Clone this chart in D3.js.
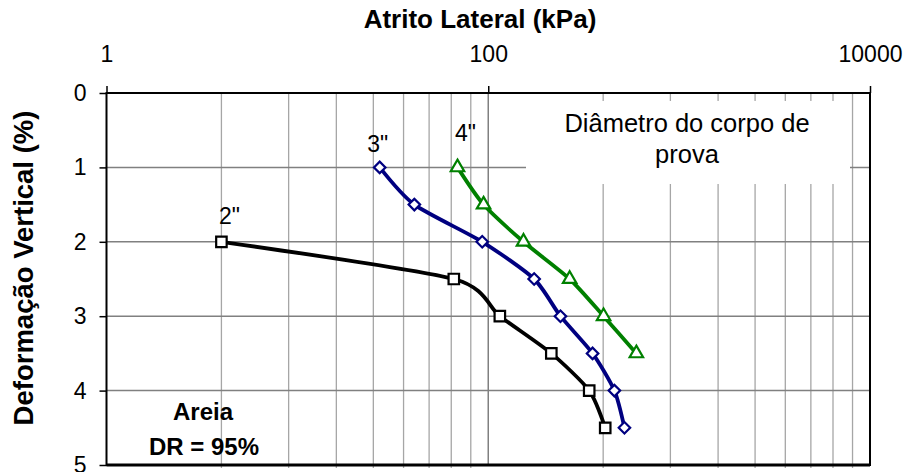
<!DOCTYPE html>
<html>
<head>
<meta charset="utf-8">
<script src="https://cdn.jsdelivr.net/npm/d3@7"></script>
<style>
  body { margin: 0; background: #fff; }
  text { font-family: Arial, "Liberation Sans", sans-serif; }
</style>
</head>
<body>
<div id="chart"></div>
<script>
// side friction vs vertical deformation, by specimen diameter

const yValues2 = [2, 2.5, 3, 3.5, 4, 4.5];
const xValues2 = [4, 66, 115, 214, 338, 410];

const yValues3 = [1, 1.5, 2, 2.5, 3, 3.5, 4, 4.5];
const xValues3 = [27, 41, 93, 174, 239, 352, 458, 517];

const yValues4 = [1, 1.5, 2, 2.5, 3, 3.5];
const xValues4 = [69, 94.5, 153, 267, 402, 597];

const xMajorTicks = [1, 100, 10000];
const xMinorTicks = [4, 9, 16, 25, 36, 49, 64, 81, 400, 900, 1600, 2500, 3600, 4900, 6400, 8100];
const yTicks = [0, 1, 2, 3, 4, 5];

const seriesNames = ['2"', '3"', '4"'];

let margin = {top: 93, right: 38, bottom: 7, left: 106.5};
let width = 908 - margin.left - margin.right;
let height = 472 - margin.top - margin.bottom;

let svg = d3.select("#chart").append("svg")
    .attr("width", 908)
    .attr("height", 472);

let g = svg.append("g")
    .attr("transform", "translate(" + margin.left + "," + margin.top + ")");

let x = d3.scaleLog().domain([1, 10000]).range([0, width]);
let y = d3.scaleLinear().domain([0, 5]).range([0, height]);

// minor vertical gridlines
g.selectAll(".minor").data(xMinorTicks)
    .enter().append("line")
    .attr("class", "minor")
    .attr("x1", d => x(d)).attr("x2", d => x(d))
    .attr("y1", 0).attr("y2", height + 3)
    .attr("stroke", "#a6a6a6")
    .attr("stroke-width", 1.3);

// major vertical gridline(s)
g.selectAll(".majorx").data(xMajorTicks.slice(1, -1))
    .enter().append("line")
    .attr("x1", d => x(d)).attr("x2", d => x(d))
    .attr("y1", 0).attr("y2", height)
    .attr("stroke", "#808080")
    .attr("stroke-width", 1.5);

// horizontal gridlines
g.selectAll(".majory").data(yTicks.slice(1, -1))
    .enter().append("line")
    .attr("x1", 0).attr("x2", width)
    .attr("y1", d => y(d)).attr("y2", d => y(d))
    .attr("stroke", "#808080")
    .attr("stroke-width", 1.5);

// white box behind the legend note
g.append("rect")
    .attr("x", 526 - margin.left)
    .attr("y", 101 - margin.top)
    .attr("width", 324)
    .attr("height", 83)
    .attr("fill", "white");

// plot frame
g.append("rect")
    .attr("x", 0).attr("y", 0)
    .attr("width", width).attr("height", height)
    .attr("fill", "none")
    .attr("stroke", "black")
    .attr("stroke-width", 2);

g.append("line")
    .attr("x1", 0).attr("x2", width)
    .attr("y1", height).attr("y2", height)
    .attr("stroke", "black")
    .attr("stroke-width", 3);

// top axis
let xAxis = d3.axisTop(x)
    .tickValues(xMajorTicks)
    .tickFormat(d3.format("d"))
    .tickSize(7)
    .tickPadding(24);

let gx = g.append("g").call(xAxis);
gx.select(".domain").remove();
gx.selectAll("line").attr("stroke", "black").attr("stroke-width", 1.5);
gx.selectAll("text")
    .attr("font-size", 23)
    .attr("font-family", "Arial, 'Liberation Sans', sans-serif")
    .attr("fill", "black")
    .attr("dy", 0);

// left axis
let yAxis = d3.axisLeft(y)
    .tickValues(yTicks)
    .tickFormat(d3.format("d"))
    .tickSize(7);

let gy = g.append("g").call(yAxis);
gy.select(".domain").remove();
gy.selectAll("line").attr("stroke", "black").attr("stroke-width", 1.5);
gy.selectAll("text")
    .attr("x", -20)
    .attr("font-size", 23)
    .attr("font-family", "Arial, 'Liberation Sans', sans-serif")
    .attr("fill", "black")
    .attr("dy", "0.33em");

// axis titles
svg.append("text")
    .text("Atrito Lateral (kPa)")
    .attr("x", 480)
    .attr("y", 28)
    .attr("text-anchor", "middle")
    .attr("font-size", 26)
    .attr("font-weight", "bold");

svg.append("text")
    .text("Deformação Vertical (%)")
    .attr("transform", "translate(33,268) rotate(-90)")
    .attr("text-anchor", "middle")
    .attr("font-size", 27.5)
    .attr("font-weight", "bold");

// series (smoothed lines like the spreadsheet)
let line = d3.line()
    .x(d => x(d[0]))
    .y(d => y(d[1]))
    .curve(d3.curveCardinal.tension(0.3));

let series = [
    {name: seriesNames[0], pts: d3.zip(xValues2, yValues2), color: "#000000", symbol: d3.symbolSquare, size: 110, rot: 0, label: [8, -18]},
    {name: seriesNames[1], pts: d3.zip(xValues3, yValues3), color: "#000080", symbol: d3.symbolSquare, size: 66, rot: 45, label: [-2, -15]},
    {name: seriesNames[2], pts: d3.zip(xValues4, yValues4), color: "#008000", symbol: d3.symbolTriangle, size: 78, rot: 0, label: [8, -26]}
];

series.forEach(function(s){
    g.append("path")
        .datum(s.pts)
        .attr("d", line)
        .attr("fill", "none")
        .attr("stroke", s.color)
        .attr("stroke-width", 3.8);

    g.selectAll(null).data(s.pts)
        .enter().append("path")
        .attr("d", d3.symbol().type(s.symbol).size(s.size))
        .attr("transform", d => "translate(" + x(d[0]) + "," + y(d[1]) + ") rotate(" + s.rot + ")")
        .attr("fill", "white")
        .attr("stroke", s.color)
        .attr("stroke-width", 2.2);

    // name label above first point
    let first = s.pts[0];
    g.append("text")
        .text(s.name)
        .attr("x", x(first[0]) + s.label[0])
        .attr("y", y(first[1]) + s.label[1])
        .attr("text-anchor", "middle")
        .attr("font-size", 23);
});

// legend note
let note = svg.append("text")
    .attr("text-anchor", "middle")
    .attr("font-size", 25.5);
note.append("tspan").attr("x", 687).attr("y", 132).text("Diâmetro do corpo de");
note.append("tspan").attr("x", 687).attr("y", 163).text("prova");

// sample note
let sample = svg.append("text")
    .attr("text-anchor", "middle")
    .attr("font-size", 24)
    .attr("font-weight", "bold");
sample.append("tspan").attr("x", 203).attr("y", 420).text("Areia");
sample.append("tspan").attr("x", 204).attr("y", 455).text("DR = 95%");
</script>
</body>
</html>
